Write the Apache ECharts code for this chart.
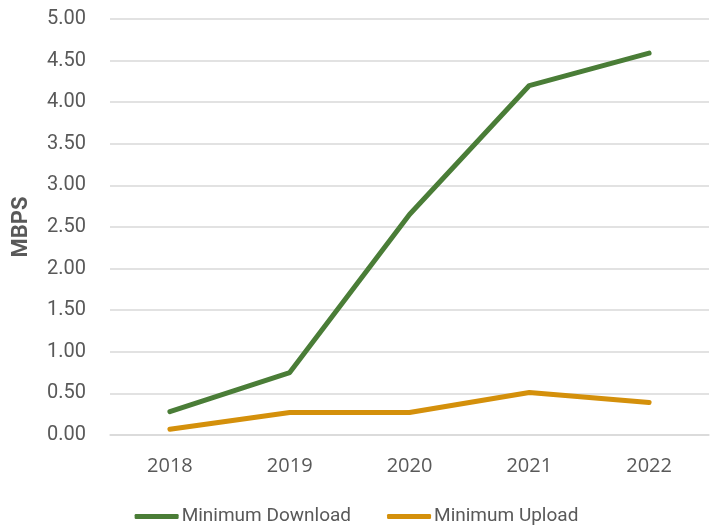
<!DOCTYPE html>
<html>
<head>
<meta charset="utf-8">
<script src="https://cdn.jsdelivr.net/npm/echarts@6/dist/echarts.min.js"></script>
<style>
  html, body { margin: 0; padding: 0; background: #fff; }
  #chart { width: 713px; height: 525px; }
</style>
</head>
<body>
<div id="chart"></div>
<script>
const years = ['2018', '2019', '2020', '2021', '2022']
const minDownload = [0.28, 0.75, 2.65, 4.20, 4.59]
const minUpload = [0.07, 0.27, 0.27, 0.51, 0.39]

const narrow = 'Roboto, sans-serif'
const textGrey = '#595959'

const option = {
  backgroundColor: '#fff',
  animation: false,
  legend: {
    top: 502,
    left: 'center',
    itemGap: 36,
    itemWidth: 44,
    itemHeight: 5,
    icon: 'roundRect',
    textStyle: {
      color: textGrey,
      fontFamily: narrow,
      fontSize: 19,
      padding: [0, 0, 0, -2]
    },
    data: ['Minimum Download', 'Minimum Upload']
  },
  grid: {
    left: 110,
    right: 4,
    top: 19,
    bottom: 90
  },
  xAxis: {
    type: 'category',
    data: years,
    boundaryGap: true,
    axisLine: { lineStyle: { color: '#D9D9D9', width: 1.5 } },
    axisTick: { show: false },
    axisLabel: {
      color: textGrey,
      fontFamily: '"Open Sans", sans-serif',
      fontSize: 20,
      margin: 21
    }
  },
  yAxis: {
    type: 'value',
    min: 0,
    max: 5,
    interval: 0.5,
    name: 'MBPS',
    nameLocation: 'middle',
    nameGap: 78,
    nameTextStyle: {
      color: textGrey,
      fontFamily: narrow,
      fontWeight: 'bold',
      fontSize: 22
    },
    axisLine: { show: false },
    axisTick: { show: false },
    splitLine: { lineStyle: { color: '#D9D9D9', width: 1.5 } },
    axisLabel: {
      color: textGrey,
      fontFamily: narrow,
      fontSize: 20,
      margin: 24,
      formatter: v => v.toFixed(2)
    }
  },
  series: [
    {
      name: 'Minimum Download',
      type: 'line',
      data: minDownload,
      symbol: 'none',
      lineStyle: { color: '#4A7D37', width: 5, cap: 'round', join: 'round' },
      itemStyle: { color: '#4A7D37' }
    },
    {
      name: 'Minimum Upload',
      type: 'line',
      data: minUpload,
      symbol: 'none',
      lineStyle: { color: '#D4900B', width: 5, cap: 'round', join: 'round' },
      itemStyle: { color: '#D4900B' }
    }
  ]
}

const myChart = echarts.init(document.getElementById('chart'))
myChart.setOption(option)
</script>
</body>
</html>
